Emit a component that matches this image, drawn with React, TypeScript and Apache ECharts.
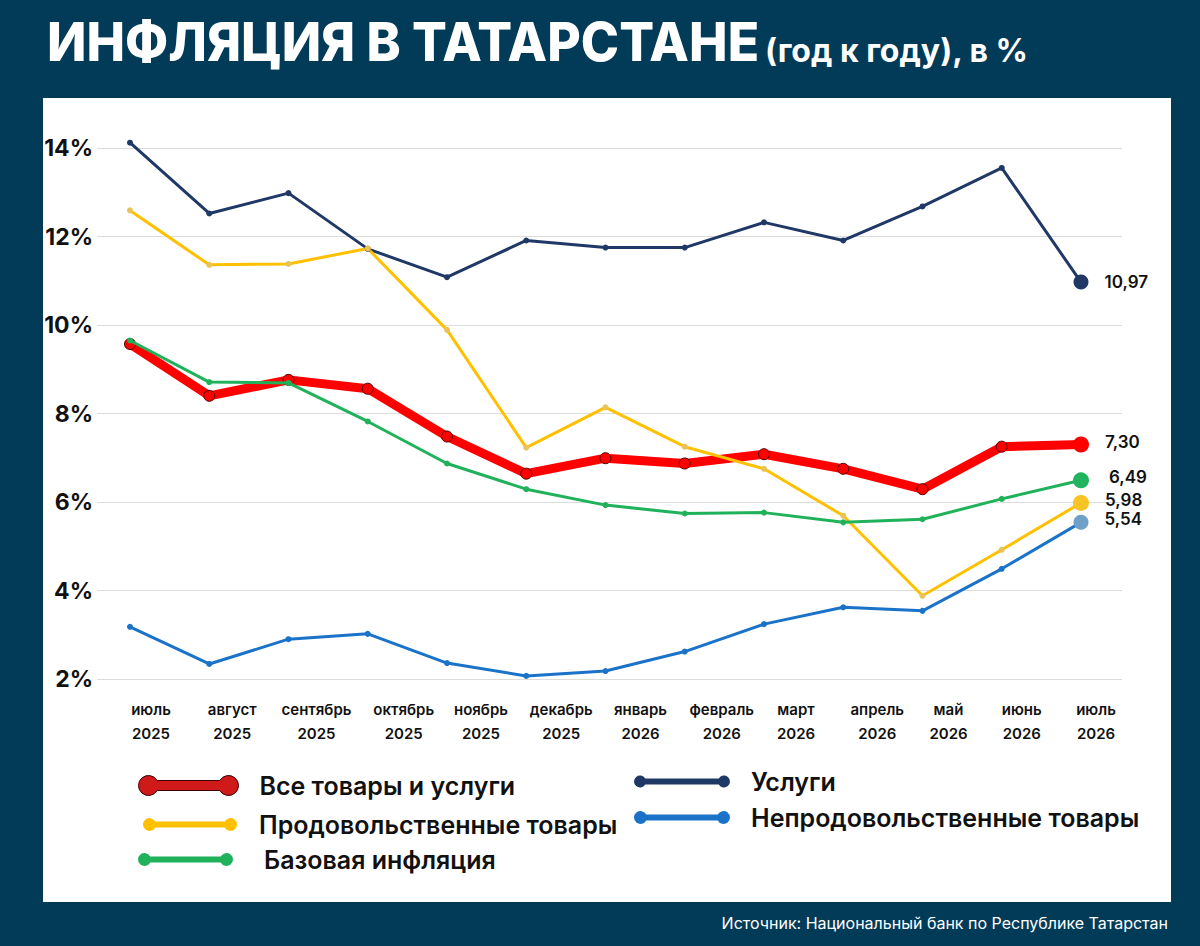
import React, { useEffect, useRef } from "react";
import * as echarts from "echarts";

// ---------- data ----------
const months = [
  "июль\n2025", "август\n2025", "сентябрь\n2025", "октябрь\n2025", "ноябрь\n2025",
  "декабрь\n2025", "январь\n2026", "февраль\n2026", "март\n2026", "апрель\n2026",
  "май\n2026", "июнь\n2026", "июль\n2026",
];
const allGoods = [9.57, 8.40, 8.76, 8.56, 7.48, 6.64, 6.99, 6.87, 7.08, 6.75, 6.29, 7.25, 7.30];
const services = [14.12, 12.52, 12.98, 11.72, 11.08, 11.91, 11.75, 11.75, 12.32, 11.91, 12.68, 13.55, 10.97];
const food = [12.59, 11.36, 11.38, 11.73, 9.89, 7.23, 8.14, 7.25, 6.75, 5.69, 3.88, 4.92, 5.98];
const core = [9.65, 8.71, 8.69, 7.82, 6.87, 6.29, 5.93, 5.74, 5.76, 5.54, 5.61, 6.07, 6.49];
const nonFood = [3.18, 2.34, 2.90, 3.02, 2.36, 2.07, 2.18, 2.62, 3.24, 3.62, 3.54, 4.49, 5.54];
const yMin = 2;
const yMax = 14;
const yStep = 2;

const names = {
  all: "Все товары и услуги",
  services: "Услуги",
  food: "Продовольственные товары",
  nonFood: "Непродовольственные товары",
  core: "Базовая инфляция",
};

// label nudges (px) for the month labels, to the right of each point
const labelNudge = [21, 23, 28, 36, 34, 35, 35, 37, 32, 34, 26, 20, 15];

const FONT = "Inter, 'Noto Sans', sans-serif";
const BG = "#023b58";

function dumbbell(W: number, r: number, h: number): string {
  const dx = Math.sqrt(r * r - h * h);
  const x1 = (r + dx).toFixed(2);
  const x2 = (W - r - dx).toFixed(2);
  const yt = (r - h).toFixed(2);
  const yb = (r + h).toFixed(2);
  return `path://M${x1},${yt} L${x2},${yt} A${r},${r} 0 1,1 ${x2},${yb} L${x1},${yb} A${r},${r} 0 1,1 ${x1},${yt} Z`;
}

const fmt = (v: number) => v.toFixed(2).replace(".", ",");

function lastPointData(
  values: number[],
  color: string,
  offset: [number, number],
  size: number
) {
  return values.map((v, i) =>
    i === values.length - 1
      ? {
          value: v,
          symbolSize: size,
          itemStyle: { color, borderWidth: 0 },
          label: {
            show: true,
            position: "right",
            distance: 16,
            offset,
            formatter: () => fmt(v),
            fontFamily: FONT,
            fontSize: 17,
            fontWeight: 600,
            color: "#111",
          },
        }
      : v
  );
}

function legendBlock(
  name: string,
  left: number,
  centerY: number,
  W: number,
  r: number,
  h: number,
  color: string,
  gap: number,
  border?: string
) {
  const H = 2 * r;
  const boxH = Math.max(H, 20);
  return {
    left,
    top: centerY - boxH / 2,
    padding: 0,
    itemWidth: W,
    itemHeight: H,
    selectedMode: false,
    textStyle: {
      fontFamily: FONT,
      fontSize: 25,
      fontWeight: 600,
      color: "#111",
      lineHeight: 20,
      padding: [0, 0, 0, gap - 5],
    },
    data: [
      {
        name,
        icon: dumbbell(W, r, h),
        itemStyle: border
          ? { color, borderColor: border, borderWidth: 1 }
          : { color, borderWidth: 0 },
      },
    ],
  };
}

export default function App() {
  const ref = useRef<HTMLDivElement>(null);

  useEffect(() => {
    if (!ref.current) return;
    const chart = echarts.init(ref.current, undefined, { renderer: "svg" });

    const option: any = {
      animation: false,
      backgroundColor: BG,
      graphic: [
        {
          type: "rect",
          z: -10,
          shape: { x: 43, y: 98, width: 1128, height: 804 },
          style: { fill: "#ffffff" },
        },
        {
          type: "text",
          x: 47,
          y: 41.5,
          scaleX: 0.955,
          style: {
            text: "ИНФЛЯЦИЯ В ТАТАРСТАНЕ",
            fill: "#ffffff",
            fontFamily: FONT,
            fontSize: 54,
            fontWeight: 800,
            verticalAlign: "middle",
            align: "left",
          },
        },
        {
          type: "text",
          x: 765,
          y: 50,
          style: {
            text: "(год к году), в %",
            fill: "#ffffff",
            fontFamily: FONT,
            fontSize: 32,
            fontWeight: 700,
            verticalAlign: "middle",
            align: "left",
          },
        },
        {
          type: "text",
          x: 1168,
          y: 923,
          style: {
            text: "Источник: Национальный банк по Республике Татарстан",
            fill: "#ffffff",
            fontFamily: FONT,
            fontSize: 16,
            fontWeight: 400,
            verticalAlign: "middle",
            align: "right",
          },
        },
      ],
      legend: [
        legendBlock(names.all, 138, 783, 100, 10, 5, "#d01a1a", 21, "#3a0000"),
        legendBlock(names.services, 634, 779, 96, 6, 3, "#1f3866", 21),
        legendBlock(names.food, 143, 822, 94, 6.5, 3, "#ffc000", 22),
        legendBlock(names.nonFood, 634, 815, 96, 6.5, 3, "#1a73c8", 21),
        legendBlock(names.core, 138, 857, 95, 6.5, 3, "#20b25a", 31),
      ],
      grid: [
        { left: 130, right: 119, top: 148, bottom: 267 },
        { left: 97, right: 78, top: 148, bottom: 267 },
      ],
      xAxis: [
        {
          type: "category",
          gridIndex: 0,
          boundaryGap: false,
          data: months.map((m, i) => ({
            value: m,
            textStyle: { padding: [0, 0, 0, labelNudge[i] * 2] },
          })),
          axisLine: { show: false },
          axisTick: { show: false },
          splitLine: { show: false },
          axisLabel: {
            interval: 0,
            margin: 18,
            fontFamily: FONT,
            fontSize: 15,
            fontWeight: 600,
            lineHeight: 24,
            color: "#111",
          },
        },
        {
          type: "value",
          gridIndex: 1,
          show: false,
          min: 0,
          max: 1,
        },
      ],
      yAxis: [
        {
          type: "value",
          gridIndex: 0,
          min: yMin,
          max: yMax,
          interval: yStep,
          show: false,
        },
        {
          type: "value",
          gridIndex: 1,
          min: yMin,
          max: yMax,
          interval: yStep,
          axisLine: { show: false },
          axisTick: { show: false },
          splitLine: { show: true, lineStyle: { color: "#dcdcdc", width: 1 } },
          axisLabel: {
            formatter: "{value}%",
            margin: 4,
            fontFamily: FONT,
            fontSize: 23,
            fontWeight: 700,
            color: "#111",
          },
        },
      ],
      series: [
        {
          name: names.all,
          type: "line",
          xAxisIndex: 0,
          yAxisIndex: 0,
          z: 2,
          clip: false,
          symbol: "circle",
          symbolSize: 11,
          lineStyle: { color: "#ff0000", width: 9 },
          itemStyle: { color: "#ff0000", borderColor: "#4a0000", borderWidth: 1 },
          data: lastPointData(allGoods, "#ff0000", [0, -2], 16),
        },
        {
          name: names.services,
          type: "line",
          xAxisIndex: 0,
          yAxisIndex: 0,
          z: 3,
          clip: false,
          symbol: "circle",
          symbolSize: 6,
          lineStyle: { color: "#1f3866", width: 3 },
          itemStyle: { color: "#1f3866" },
          data: lastPointData(services, "#1f3866", [0, 0], 15),
        },
        {
          name: names.food,
          type: "line",
          xAxisIndex: 0,
          yAxisIndex: 0,
          z: 3,
          clip: false,
          symbol: "circle",
          symbolSize: 6,
          lineStyle: { color: "#ffc000", width: 3 },
          itemStyle: { color: "#e9c35a" },
          data: lastPointData(food, "#f7c325", [0, -3], 16),
        },
        {
          name: names.core,
          type: "line",
          xAxisIndex: 0,
          yAxisIndex: 0,
          z: 3,
          clip: false,
          symbol: "circle",
          symbolSize: 6,
          lineStyle: { color: "#20b25a", width: 3 },
          itemStyle: { color: "#20b25a" },
          data: lastPointData(core, "#22b35e", [4, -3], 16),
        },
        {
          name: names.nonFood,
          type: "line",
          xAxisIndex: 0,
          yAxisIndex: 0,
          z: 3,
          clip: false,
          symbol: "circle",
          symbolSize: 6,
          lineStyle: { color: "#1a73c8", width: 3 },
          itemStyle: { color: "#1a73c8" },
          data: lastPointData(nonFood, "#6fa0c8", [0, -3], 15),
        },
      ],
    };

    chart.setOption(option);
    return () => chart.dispose();
  }, []);

  return (
    <div
      ref={ref}
      style={{ position: "absolute", left: 0, top: 0, width: 1200, height: 946 }}
    />
  );
}
